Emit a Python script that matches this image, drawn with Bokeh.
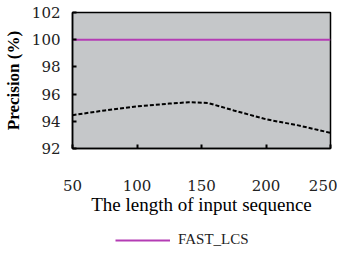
from bokeh.plotting import figure
from bokeh.models import Legend, LegendItem, FixedTicker, Range1d
from bokeh.layouts import column
from bokeh.embed import file_html
from bokeh.resources import INLINE

x_fast = [50, 250]
y_fast = [100, 100]
x_other = [50, 75, 100, 125, 140, 155, 175, 200, 225, 250]
y_other = [94.45, 94.8, 95.1, 95.3, 95.4, 95.35, 94.8, 94.15, 93.7, 93.15]
x_ticks = [50, 100, 150, 200, 250]
y_ticks = [92, 94, 96, 98, 100, 102]

FONT = "Liberation Serif"
TICK_FONT = "DejaVu Serif"

p = figure(width=337, height=218, output_backend="svg", toolbar_location=None,
           x_range=Range1d(50, 250), y_range=Range1d(92, 102),
           min_border_left=69, min_border_top=12, min_border_right=7,
           min_border_bottom=70)
p.background_fill_color = "#c5c7c9"
p.border_fill_color = "white"
p.outline_line_color = "black"
p.outline_line_width = 1.5
p.grid.visible = False

p.line(x_fast, y_fast, line_color="#b43cb4", line_width=2)
p.line(x_other, y_other, line_color="black", line_width=2, line_dash="4 2")

for ax in (p.xaxis[0], p.yaxis[0]):
    ax.major_tick_in = 4
    ax.major_tick_out = 0
    ax.minor_tick_in = 0
    ax.minor_tick_out = 0
    ax.axis_line_width = 1.5
    ax.major_tick_line_width = 2
    ax.major_label_text_font = TICK_FONT
    ax.major_label_text_font_size = "15px"
    ax.major_label_text_color = "#222222"
    ax.axis_label_text_font = FONT
    ax.axis_label_text_font_style = "normal"
    ax.axis_label_text_color = "black"

p.xaxis.ticker = FixedTicker(ticks=x_ticks)
p.yaxis.ticker = FixedTicker(ticks=y_ticks)
p.xaxis.major_label_standoff = 31
p.yaxis.major_label_standoff = 12
p.xaxis.axis_label = "The length of input sequence"
p.xaxis.axis_label_text_font_size = "19px"
p.xaxis.axis_label_standoff = 0
p.yaxis.axis_label = "Precision (%)"
p.yaxis.axis_label_text_font_size = "17px"
p.yaxis.axis_label_standoff = 6
p.yaxis.axis_label_text_font_style = "bold"

# legend strip below the chart
p2 = figure(width=337, height=30, output_backend="svg", toolbar_location=None,
            x_range=Range1d(0, 1), y_range=Range1d(0, 1), min_border=0,
            x_axis_location=None, y_axis_location=None)
p2.grid.visible = False
p2.outline_line_color = None
r2 = p2.line(x_fast, y_fast, line_color="#b43cb4", line_width=2)
legend = Legend(items=[LegendItem(label="FAST_LCS", renderers=[r2])],
                location=(43, 0), orientation="horizontal",
                glyph_width=55, glyph_height=12, label_text_font=FONT,
                label_text_font_size="15px", label_text_color="#222222",
                border_line_color=None, background_fill_alpha=0,
                margin=0, padding=0, label_standoff=8)
p2.add_layout(legend, "center")

layout = column(p, p2, spacing=0)
open("out.html", "w").write(file_html(layout, INLINE))
